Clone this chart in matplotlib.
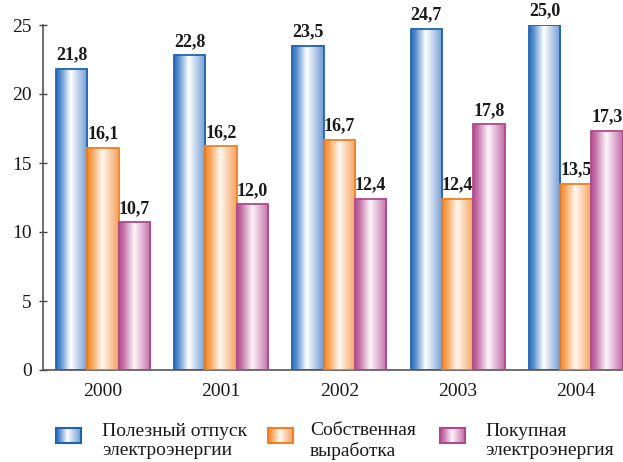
import numpy as np
import matplotlib
matplotlib.use("Agg")
import matplotlib.pyplot as plt
from matplotlib.colors import LinearSegmentedColormap

years = ["2000", "2001", "2002", "2003", "2004"]
series_names = ["Полезный отпуск\nэлектроэнергии", "Собственная\nвыработка", "Покупная\nэлектроэнергия"]
useful = [21.8, 22.8, 23.5, 24.7, 25.0]
own = [16.1, 16.2, 16.7, 12.4, 13.5]
bought = [10.7, 12.0, 12.4, 17.8, 17.3]
yticks = [0, 5, 10, 15, 20, 25]

plt.rcParams['font.family'] = ['Liberation Serif', 'DejaVu Serif']

W, H = 623, 462
fig = plt.figure(figsize=(W/100, H/100), dpi=100)
ax = fig.add_axes([43/W, 1-370/H, (W-43)/W, (370-25)/H])

cmaps = [
    LinearSegmentedColormap.from_list("b", [(0, "#2f72c0"), (0.12, "#4d87c9"), (0.46, "#ffffff"), (1.0, "#6e99d2")]),
    LinearSegmentedColormap.from_list("o", [(0, "#f5861f"), (0.12, "#f79a48"), (0.48, "#fff8f0"), (1.0, "#f6a05a")]),
    LinearSegmentedColormap.from_list("p", [(0, "#b5508f"), (0.12, "#c06aa2"), (0.48, "#fdf5fa"), (1.0, "#c26ba8")]),
]
edges = ["#1f64b0", "#ee8126", "#ad4a8c"]
grad = np.linspace(0, 1, 256).reshape(1, -1)

x = np.arange(len(years))
bw = 0.265
data = [useful, own, bought]
for i, (vals, cm, ec) in enumerate(zip(data, cmaps, edges)):
    xs = x + (i - 1) * bw
    bars = ax.bar(xs, vals, bw, facecolor='none', edgecolor=ec, linewidth=1.3, zorder=3)
    for b, v in zip(bars, vals):
        x0 = b.get_x()
        ax.imshow(grad, extent=[x0, x0 + bw, 0, v], aspect='auto', cmap=cm, zorder=2,
                  interpolation='bilinear')
        ax.annotate(f"{v:.1f}".replace(".", ","), (b.get_x() + bw/2, v),
                    xytext=(0, 4), textcoords='offset points', ha='center', va='bottom',
                    fontsize=13, fontweight='bold', color='#1a1a1a', annotation_clip=False)

ax.set_xlim(-0.507, 4.40)
ax.set_ylim(0, 25)
ax.set_xticks(x)
ax.set_xticklabels(years)
ax.set_yticks(yticks)
ax.tick_params(axis='x', length=0, pad=9, labelsize=14, colors='#1a1a1a')
ax.tick_params(axis='y', direction='inout', length=6, width=1, pad=5, labelsize=14,
               colors='#444444', labelcolor='#1a1a1a')
for s in ['top', 'right']:
    ax.spines[s].set_visible(False)
for s in ['left', 'bottom']:
    ax.spines[s].set_color('#555555')
    ax.spines[s].set_linewidth(1.2)

# legend
sw = [(56, 428), (268, 428), (440, 428)]
tx = [102, 310, 485]
for (sx, sy), t, name, cm, ec in zip(sw, tx, series_names, cmaps, edges):
    lax = fig.add_axes([sx/W, 1-(sy+15)/H, 25/W, 15/H])
    lax.imshow(grad, aspect='auto', cmap=cm, extent=[0, 1, 0, 1], interpolation='bilinear')
    lax.set_xticks([]); lax.set_yticks([])
    for s in lax.spines.values():
        s.set_color(ec); s.set_linewidth(1.5)
    fig.text(t/W, 1-441/H, name, ha='left', va='center', fontsize=14, color='#1a1a1a',
             linespacing=1.2)

fig.savefig("out.png", dpi=100)
